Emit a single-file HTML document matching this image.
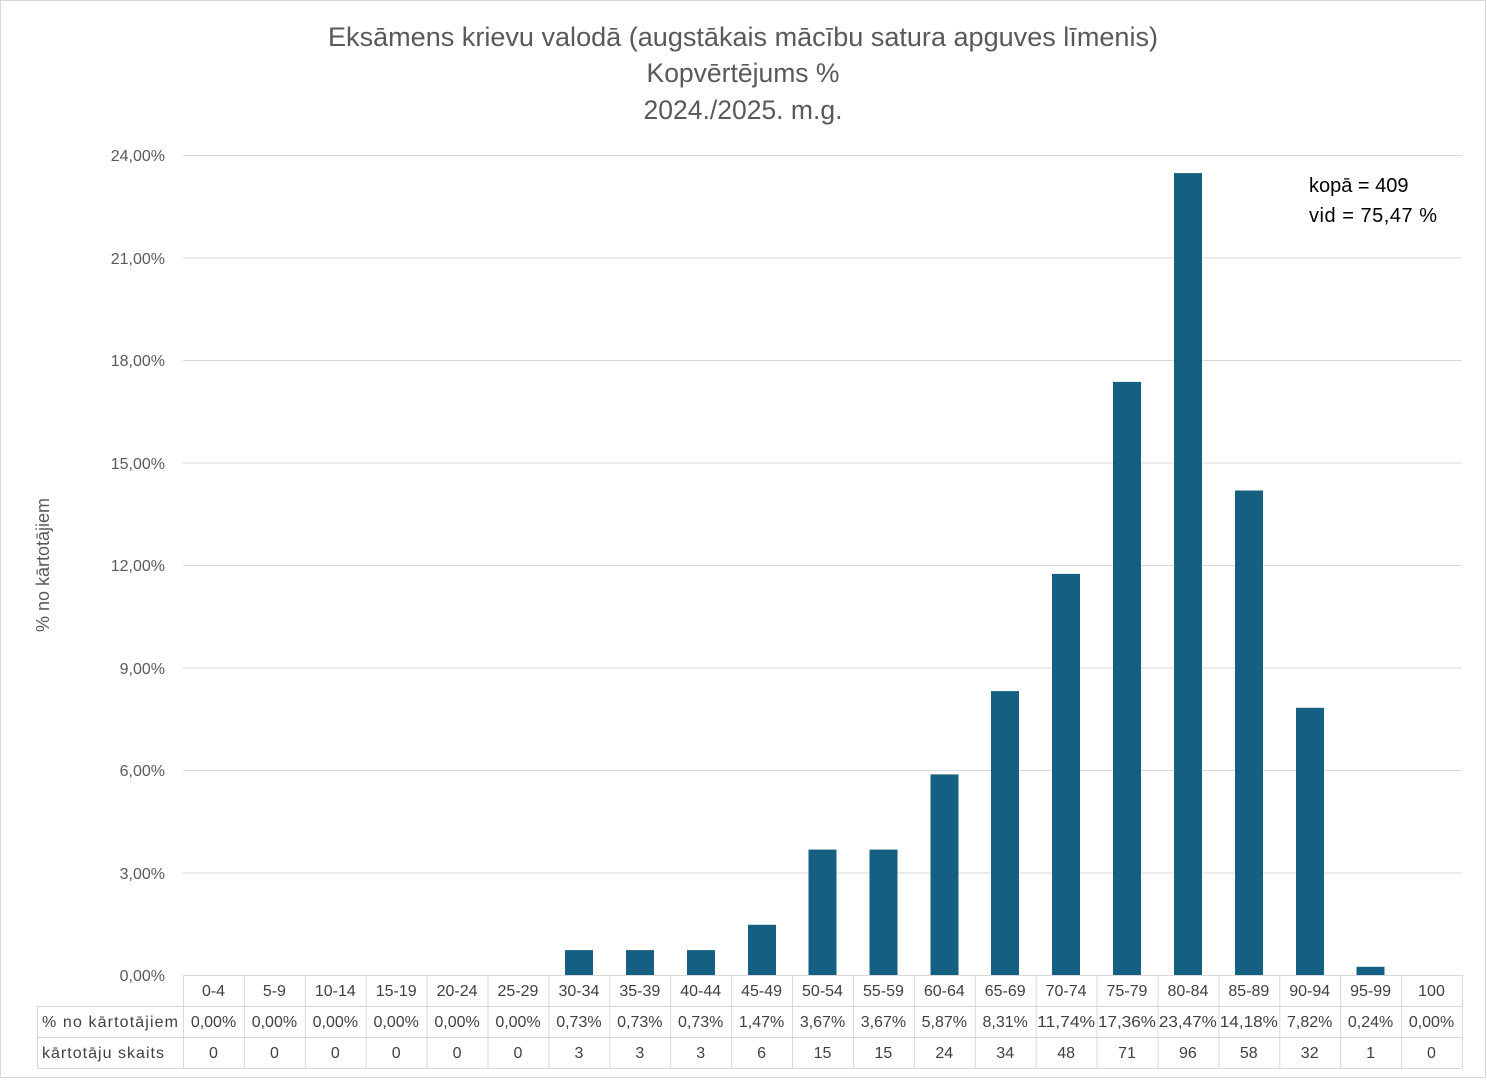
<!DOCTYPE html>
<html><head><meta charset="utf-8"><style>
body{margin:0;background:#fff}
svg{display:block;font-family:"Liberation Sans",Calibri,sans-serif}
</style></head><body>
<svg width="1487" height="1080" viewBox="0 0 1487 1080" xmlns="http://www.w3.org/2000/svg">
<rect x="0.5" y="0.5" width="1485" height="1077" fill="#fff" stroke="#d9d9d9"/>
<g fill="#595959" font-size="26.5" text-anchor="middle">
<text x="743" y="46" textLength="830" lengthAdjust="spacingAndGlyphs">Eksāmens krievu valodā (augstākais mācību satura apguves līmenis)</text>
<text x="743" y="82">Kopvērtējums %</text>
<text x="743" y="119">2024./2025. m.g.</text>
</g>
<g stroke="#d9d9d9" stroke-width="1">
<line x1="183" x2="1462" y1="155.5" y2="155.5"/>
<line x1="183" x2="1462" y1="258" y2="258"/>
<line x1="183" x2="1462" y1="360.5" y2="360.5"/>
<line x1="183" x2="1462" y1="463" y2="463"/>
<line x1="183" x2="1462" y1="565.5" y2="565.5"/>
<line x1="183" x2="1462" y1="668" y2="668"/>
<line x1="183" x2="1462" y1="770.5" y2="770.5"/>
<line x1="183" x2="1462" y1="873" y2="873"/>
</g>
<g fill="#595959" font-size="16" text-anchor="end">
<text x="165" y="161">24,00%</text>
<text x="165" y="264">21,00%</text>
<text x="165" y="366">18,00%</text>
<text x="165" y="469">15,00%</text>
<text x="165" y="571">12,00%</text>
<text x="165" y="674">9,00%</text>
<text x="165" y="776">6,00%</text>
<text x="165" y="879">3,00%</text>
<text x="165" y="981">0,00%</text>
</g>
<text transform="translate(49,565) rotate(-90)" fill="#595959" font-size="18" text-anchor="middle">% no kārtotājiem</text>
<g fill="#156082">
<rect x="565" y="950.1" width="28" height="24.9"/>
<rect x="626" y="950.1" width="28" height="24.9"/>
<rect x="687" y="950.1" width="28" height="24.9"/>
<rect x="748" y="924.8" width="28" height="50.2"/>
<rect x="808.5" y="849.6" width="28" height="125.4"/>
<rect x="869.5" y="849.6" width="28" height="125.4"/>
<rect x="930.5" y="774.4" width="28" height="200.6"/>
<rect x="991" y="691.1" width="28" height="283.9"/>
<rect x="1052" y="573.9" width="28" height="401.1"/>
<rect x="1113" y="381.9" width="28" height="593.1"/>
<rect x="1174" y="173.1" width="28" height="801.9"/>
<rect x="1235" y="490.5" width="28" height="484.5"/>
<rect x="1296" y="707.8" width="28" height="267.2"/>
<rect x="1356.5" y="966.8" width="28" height="8.2"/>
</g>
<g fill="#000" font-size="20">
<text x="1309" y="192">kopā = 409</text>
<text x="1309" y="222" textLength="128">vid = 75,47 %</text>
</g>
<g stroke="#d9d9d9" stroke-width="1" fill="none">
<line x1="183" x2="1462" y1="975.5" y2="975.5"/>
<line x1="37" x2="1462" y1="1006.5" y2="1006.5"/>
<line x1="37" x2="1462" y1="1037.5" y2="1037.5"/>
<line x1="37" x2="1462" y1="1068.5" y2="1068.5"/>
<line x1="37.5" x2="37.5" y1="1006" y2="1068"/>
<line x1="183.5" x2="183.5" y1="975" y2="1068"/>
<line x1="244.4" x2="244.4" y1="975" y2="1068"/>
<line x1="305.3" x2="305.3" y1="975" y2="1068"/>
<line x1="366.2" x2="366.2" y1="975" y2="1068"/>
<line x1="427.1" x2="427.1" y1="975" y2="1068"/>
<line x1="488" x2="488" y1="975" y2="1068"/>
<line x1="548.9" x2="548.9" y1="975" y2="1068"/>
<line x1="609.8" x2="609.8" y1="975" y2="1068"/>
<line x1="670.7" x2="670.7" y1="975" y2="1068"/>
<line x1="731.6" x2="731.6" y1="975" y2="1068"/>
<line x1="792.5" x2="792.5" y1="975" y2="1068"/>
<line x1="853.5" x2="853.5" y1="975" y2="1068"/>
<line x1="914.4" x2="914.4" y1="975" y2="1068"/>
<line x1="975.3" x2="975.3" y1="975" y2="1068"/>
<line x1="1036.2" x2="1036.2" y1="975" y2="1068"/>
<line x1="1097.1" x2="1097.1" y1="975" y2="1068"/>
<line x1="1158" x2="1158" y1="975" y2="1068"/>
<line x1="1218.9" x2="1218.9" y1="975" y2="1068"/>
<line x1="1279.8" x2="1279.8" y1="975" y2="1068"/>
<line x1="1340.7" x2="1340.7" y1="975" y2="1068"/>
<line x1="1401.6" x2="1401.6" y1="975" y2="1068"/>
<line x1="1462.5" x2="1462.5" y1="975" y2="1068"/>
</g>
<g fill="#404040" font-size="16">
<text x="42" y="1027" textLength="136">% no kārtotājiem</text>
<text x="42" y="1058" textLength="122">kārtotāju skaits</text>
</g>
<g fill="#404040" font-size="16" text-anchor="middle">
<text x="213.5" y="996">0-4</text><text x="274.4" y="996">5-9</text><text x="335.3" y="996">10-14</text><text x="396.2" y="996">15-19</text><text x="457.1" y="996">20-24</text><text x="518" y="996">25-29</text><text x="578.9" y="996">30-34</text><text x="639.8" y="996">35-39</text><text x="700.7" y="996">40-44</text><text x="761.6" y="996">45-49</text><text x="822.5" y="996">50-54</text><text x="883.4" y="996">55-59</text><text x="944.3" y="996">60-64</text><text x="1005.2" y="996">65-69</text><text x="1066.1" y="996">70-74</text><text x="1127" y="996">75-79</text><text x="1187.9" y="996">80-84</text><text x="1248.8" y="996">85-89</text><text x="1309.7" y="996">90-94</text><text x="1370.6" y="996">95-99</text><text x="1431.5" y="996">100</text>
</g>
<g fill="#404040" font-size="16" text-anchor="middle">
<text x="213.5" y="1027">0,00%</text><text x="274.4" y="1027">0,00%</text><text x="335.3" y="1027">0,00%</text><text x="396.2" y="1027">0,00%</text><text x="457.1" y="1027">0,00%</text><text x="518" y="1027">0,00%</text><text x="578.9" y="1027">0,73%</text><text x="639.8" y="1027">0,73%</text><text x="700.7" y="1027">0,73%</text><text x="761.6" y="1027">1,47%</text><text x="822.5" y="1027">3,67%</text><text x="883.4" y="1027">3,67%</text><text x="944.3" y="1027">5,87%</text><text x="1005.2" y="1027">8,31%</text><text x="1066.1" y="1027" textLength="58" lengthAdjust="spacingAndGlyphs">11,74%</text><text x="1127" y="1027" textLength="58" lengthAdjust="spacingAndGlyphs">17,36%</text><text x="1187.9" y="1027" textLength="58" lengthAdjust="spacingAndGlyphs">23,47%</text><text x="1248.8" y="1027" textLength="58" lengthAdjust="spacingAndGlyphs">14,18%</text><text x="1309.7" y="1027">7,82%</text><text x="1370.6" y="1027">0,24%</text><text x="1431.5" y="1027">0,00%</text>
</g>
<g fill="#404040" font-size="16" text-anchor="middle">
<text x="213.5" y="1058">0</text><text x="274.4" y="1058">0</text><text x="335.3" y="1058">0</text><text x="396.2" y="1058">0</text><text x="457.1" y="1058">0</text><text x="518" y="1058">0</text><text x="578.9" y="1058">3</text><text x="639.8" y="1058">3</text><text x="700.7" y="1058">3</text><text x="761.6" y="1058">6</text><text x="822.5" y="1058">15</text><text x="883.4" y="1058">15</text><text x="944.3" y="1058">24</text><text x="1005.2" y="1058">34</text><text x="1066.1" y="1058">48</text><text x="1127" y="1058">71</text><text x="1187.9" y="1058">96</text><text x="1248.8" y="1058">58</text><text x="1309.7" y="1058">32</text><text x="1370.6" y="1058">1</text><text x="1431.5" y="1058">0</text>
</g>
</svg>
</body></html>
